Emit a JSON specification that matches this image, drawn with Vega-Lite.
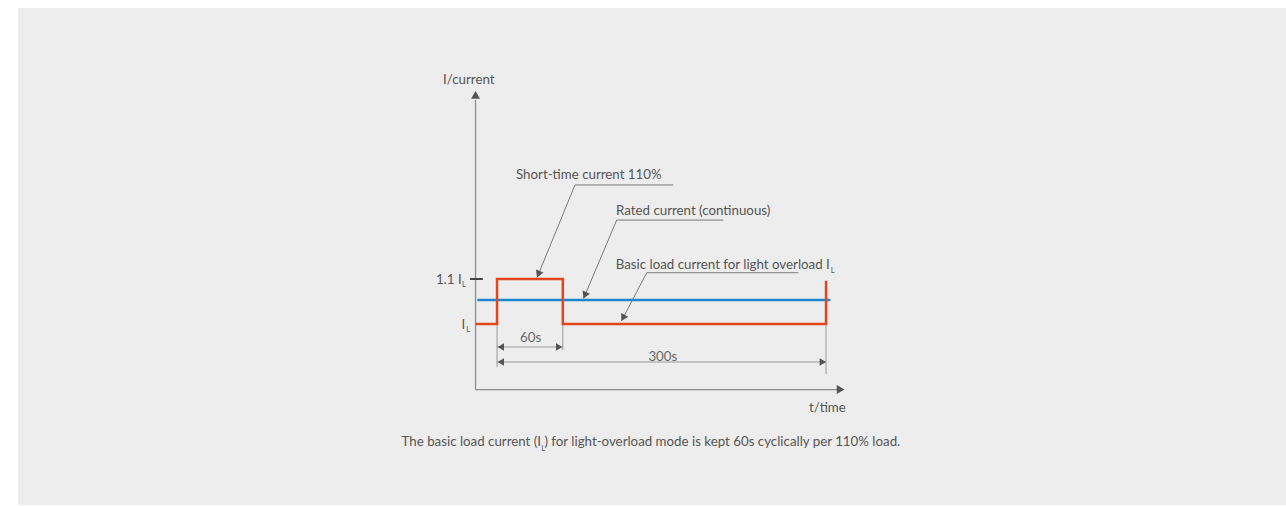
{
  "$schema": "https://vega.github.io/schema/vega-lite/v6.json",
  "width": 1268,
  "height": 497,
  "autosize": {"type": "none"},
  "padding": {"left": 18, "top": 8, "right": 0, "bottom": 1},
  "background": "#ffffff",
  "config": {
    "view": {"fill": "#ededed", "stroke": null},
    "text": {"font": "Lato"}
  },
  "datasets": {
    "red": [
      {"i": 0, "t": -19.3, "c": 100},
      {"i": 1, "t": 0, "c": 100},
      {"i": 2, "t": 0, "c": 110},
      {"i": 3, "t": 60, "c": 110},
      {"i": 4, "t": 60, "c": 100},
      {"i": 5, "t": 300, "c": 100},
      {"i": 6, "t": 300, "c": 109.6}
    ],
    "rated": [{"t": -18, "t2": 304, "c": 105.33, "c2": 105.33}],
    "axes": [
      {"t": -19.6, "t2": -19.6, "c": 85.44, "c2": 149.8},
      {"t": -19.6, "t2": 313.7, "c": 85.44, "c2": 85.44}
    ],
    "tick": [{"t": -24.6, "t2": -13, "c": 110, "c2": 110}],
    "dims": [
      {"t": 0, "t2": 0, "c": 99.8, "c2": 90.44},
      {"t": 60, "t2": 60, "c": 99.8, "c2": 94.2},
      {"t": 300, "t2": 300, "c": 99.8, "c2": 88.9},
      {"t": 0, "t2": 60, "c": 94.9, "c2": 94.9},
      {"t": 0, "t2": 300, "c": 91.56, "c2": 91.56}
    ],
    "leaders": [
      {"t": 71.1, "t2": 160.8, "c": 130.9, "c2": 130.9},
      {"t": 71.1, "t2": 36.5, "c": 130.9, "c2": 110.33},
      {"t": 109.1, "t2": 206.3, "c": 123.1, "c2": 123.1},
      {"t": 109.1, "t2": 78.9, "c": 123.1, "c2": 105.67},
      {"t": 136.5, "t2": 274.7, "c": 111.4, "c2": 111.4},
      {"t": 136.5, "t2": 113.5, "c": 111.4, "c2": 100.67}
    ],
    "axisHeads": [
      {"t": -19.6, "c": 150.9, "dir": 0},
      {"t": 313.3, "c": 85.44, "dir": 90}
    ],
    "dimHeads": [
      {"t": 3.4, "c": 94.9, "dir": 270},
      {"t": 56.7, "c": 94.9, "dir": 90},
      {"t": 3.4, "c": 91.56, "dir": 270},
      {"t": 297.1, "c": 91.56, "dir": 90}
    ],
    "leaderHeads": [
      {"t": 37.7, "c": 111.05, "dir": 202.5},
      {"t": 80.1, "c": 106.38, "dir": 203.6},
      {"t": 114.9, "c": 101.36, "dir": 207.5}
    ],
    "textLeft": [
      {"t": -49.2, "c": 153.33, "text": "I/current"},
      {"t": 17.3, "c": 132.2, "text": "Short-time current 110%"},
      {"t": 108.5, "c": 124.2, "text": "Rated current (continuous)"},
      {"t": 284.5, "c": 80.4, "text": "t/time"},
      {"t": 43.2, "c": 72.9, "text": ") for light-overload mode is kept 60s cyclically per 110% load."}
    ],
    "textRight": [
      {"t": 303.4, "c": 112.2, "text": "Basic load current for light overload I"},
      {"t": -32.3, "c": 108.8, "text": "1.1 I"},
      {"t": -28.9, "c": 98.9, "text": "I"},
      {"t": 40.1, "c": 72.9, "text": "The basic load current (I"}
    ],
    "textCenter": [
      {"t": 30.7, "c": 96, "text": "60s"},
      {"t": 151.2, "c": 91.8, "text": "300s"}
    ],
    "subs": [
      {"t": 306.1, "c": 111.4, "text": "L"},
      {"t": -30.3, "c": 108.15, "text": "L"},
      {"t": -26.4, "c": 98.3, "text": "L"},
      {"t": 42, "c": 71.85, "text": "L"}
    ]
  },
  "encoding": {
    "x": {"field": "t", "type": "quantitative", "scale": {"domain": [-436.8, 719.4], "nice": false, "zero": false}, "axis": null},
    "y": {"field": "c", "type": "quantitative", "scale": {"domain": [59.78, 170.22], "nice": false, "zero": false}, "axis": null}
  },
  "layer": [
    {
      "data": {"name": "axes"},
      "mark": {"type": "rule", "color": "#8c8c8c", "strokeWidth": 1.3},
      "encoding": {"x2": {"field": "t2"}, "y2": {"field": "c2"}}
    },
    {
      "data": {"name": "dims"},
      "mark": {"type": "rule", "color": "#9a9a9a", "strokeWidth": 1},
      "encoding": {"x2": {"field": "t2"}, "y2": {"field": "c2"}}
    },
    {
      "data": {"name": "leaders"},
      "mark": {"type": "rule", "color": "#7a7a7a", "strokeWidth": 1},
      "encoding": {"x2": {"field": "t2"}, "y2": {"field": "c2"}}
    },
    {
      "data": {"name": "tick"},
      "mark": {"type": "rule", "color": "#444444", "strokeWidth": 2},
      "encoding": {"x2": {"field": "t2"}, "y2": {"field": "c2"}}
    },
    {
      "data": {"name": "rated"},
      "mark": {"type": "rule", "color": "#1d87d0", "strokeWidth": 2.5},
      "encoding": {"x2": {"field": "t2"}, "y2": {"field": "c2"}}
    },
    {
      "data": {"name": "red"},
      "mark": {"type": "line", "color": "#e2461d", "strokeWidth": 2.5, "strokeJoin": "miter"},
      "encoding": {"order": {"field": "i", "type": "quantitative"}}
    },
    {
      "data": {"name": "axisHeads"},
      "mark": {"type": "point", "shape": "triangle-up", "filled": true, "size": 80, "color": "#555555", "opacity": 1},
      "encoding": {"angle": {"field": "dir", "type": "quantitative", "scale": null}}
    },
    {
      "data": {"name": "dimHeads"},
      "mark": {"type": "point", "shape": "triangle-up", "filled": true, "size": 55, "color": "#555555", "opacity": 1},
      "encoding": {"angle": {"field": "dir", "type": "quantitative", "scale": null}}
    },
    {
      "data": {"name": "leaderHeads"},
      "mark": {"type": "point", "shape": "triangle-up", "filled": true, "size": 65, "color": "#555555", "opacity": 1},
      "encoding": {"angle": {"field": "dir", "type": "quantitative", "scale": null}}
    },
    {
      "data": {"name": "textLeft"},
      "mark": {"type": "text", "align": "left", "baseline": "alphabetic", "fontSize": 13.3, "color": "#555555"},
      "encoding": {"text": {"field": "text"}}
    },
    {
      "data": {"name": "textRight"},
      "mark": {"type": "text", "align": "right", "baseline": "alphabetic", "fontSize": 13.3, "color": "#555555"},
      "encoding": {"text": {"field": "text"}}
    },
    {
      "data": {"name": "textCenter"},
      "mark": {"type": "text", "align": "center", "baseline": "alphabetic", "fontSize": 13.3, "color": "#666666"},
      "encoding": {"text": {"field": "text"}}
    },
    {
      "data": {"name": "subs"},
      "mark": {"type": "text", "align": "center", "baseline": "alphabetic", "fontSize": 7.5, "color": "#555555"},
      "encoding": {"text": {"field": "text"}}
    }
  ]
}
